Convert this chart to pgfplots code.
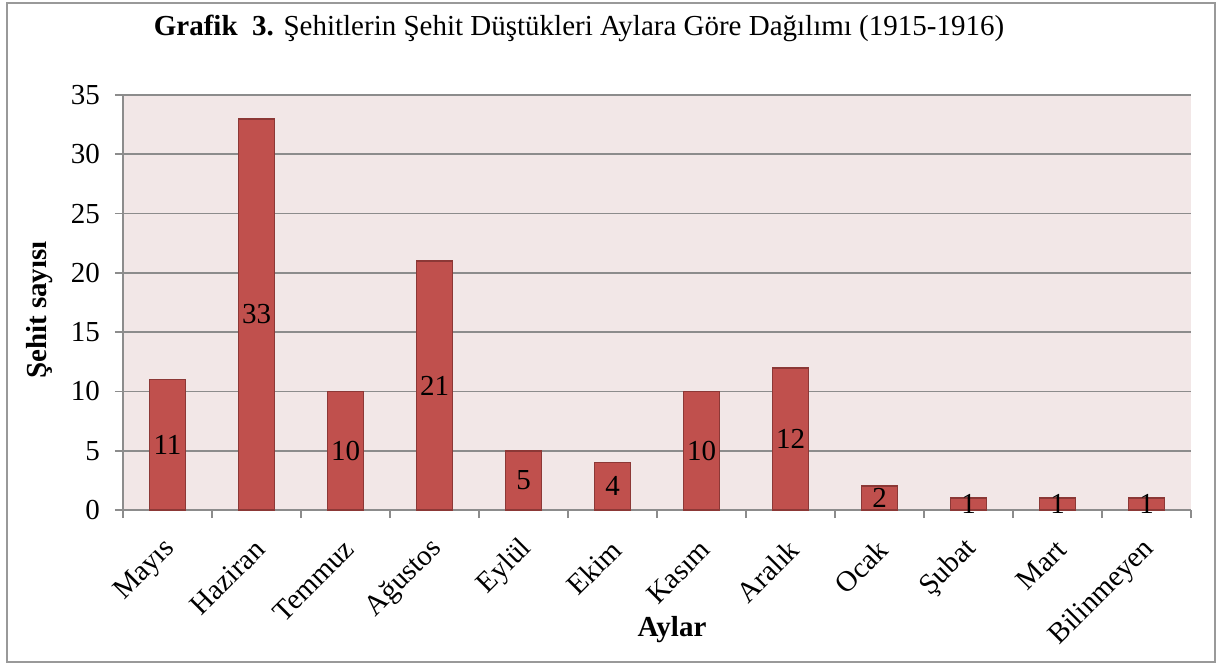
\documentclass[border=0pt]{standalone}
\usepackage{fontspec}
\setmainfont{Liberation Serif}
\usepackage{pgfplots}
\pgfplotsset{compat=1.18}
\definecolor{barfill}{HTML}{C0504D}
\definecolor{bardraw}{HTML}{8C3836}
\definecolor{bgfill}{HTML}{F2E7E7}
\definecolor{gridc}{HTML}{8C8C8C}
\newcommand{\fs}{\fontsize{14.5}{17}\selectfont}
\begin{document}
\begin{tikzpicture}
\useasboundingbox (-61.5pt,-78pt) rectangle (547.5pt,255pt);
\draw[gray!80, line width=1pt] (-58pt,-76pt) rectangle (546pt,253.5pt);
\begin{axis}[
  at={(0,0)}, anchor=south west,
  scale only axis, width=534pt, height=207.5pt,
  xmin=-0.5, xmax=11.5, ymin=0, ymax=35,
  ytick={0,5,...,35},
  xtick={0,...,11},
  xticklabels={Mayıs,Haziran,Temmuz,Ağustos,Eylül,Ekim,Kasım,Aralık,Ocak,Şubat,Mart,Bilinmeyen},
  minor xtick={-0.5,0.5,...,11.5},
  major x tick style={draw=none},
  tick align=outside,
  major tick length=4pt, minor tick length=4pt,
  xtick pos=bottom, ytick pos=left,
  every tick/.style={gridc, line width=0.8pt},
  axis x line*=bottom, axis y line*=left,
  axis line style={gridc, line width=0.8pt, -},
  ymajorgrids, major grid style={gridc, line width=0.8pt},
  axis background/.style={fill=bgfill},
  /pgf/number format/assume math mode=true,
  tick label style={font=\fs},
  xticklabel style={xshift=4.3pt, yshift=-11pt, rotate=45, anchor=east},
  yticklabel style={xshift=-4pt},
  ybar, bar width=18pt,
  clip=false,
]
\addplot[fill=barfill, draw=bardraw, line width=0.8pt,
  nodes near coords,
  visualization depends on={y \as \rawy},
  every node near coord/.append style={anchor=center, font=\fs, black, shift={(axis direction cs:0,-\rawy/2)}},
] coordinates {
(0,11) (1,33) (2,10) (3,21) (4,5) (5,4) (6,10) (7,12) (8,2) (9,1) (10,1) (11,1)
};
\end{axis}
\node[font=\fs] at (228pt,241pt) {\textbf{Grafik\ \ 3.} Şehitlerin Şehit Düştükleri Aylara Göre Dağılımı (1915-1916)};
\node[font=\bfseries\fs, rotate=90] at (-41.5pt,100pt) {Şehit sayısı};
\node[font=\bfseries\fs] at (274.5pt,-60pt) {Aylar};
\end{tikzpicture}
\end{document}
